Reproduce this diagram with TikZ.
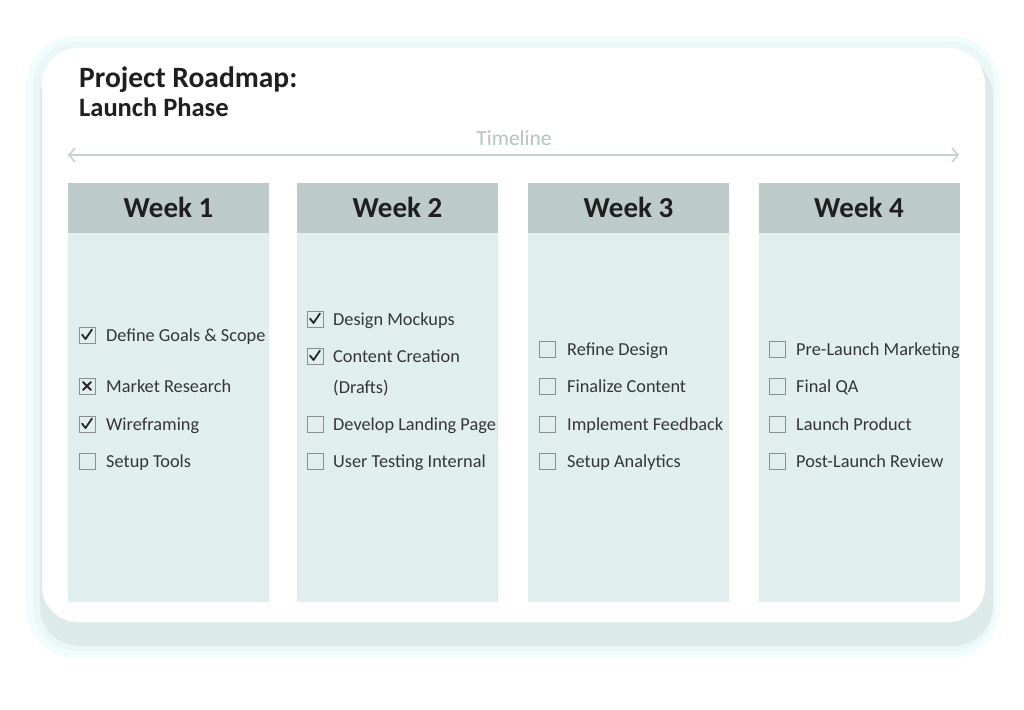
\documentclass[tikz,border=0pt]{standalone}
\usepackage{fontspec}
\setmainfont{Carlito}
\usetikzlibrary{arrows.meta,calc}
\definecolor{hdrfill}{HTML}{BCCAC9}
\definecolor{bodyfill}{HTML}{E1EEEE}
\definecolor{itemtext}{HTML}{353535}
\definecolor{boxline}{HTML}{8A8F8F}
\definecolor{tlcol}{HTML}{C5D2CF}
\definecolor{tltext}{HTML}{B4C4C2}
\definecolor{glowA}{HTML}{F1FDFD}
\definecolor{glowB}{HTML}{DDEAEA}
\tikzset{
  hdr/.style={fill=hdrfill, draw=none, minimum width=201pt, minimum height=50pt, inner sep=0pt,
    font=\bfseries\fontsize{29}{32}\selectfont, text=black!88},
  colbody/.style={fill=bodyfill, draw=none, minimum width=201pt, minimum height=369pt, inner sep=0pt},
  cbox/.style={draw=boxline, line width=1pt, minimum size=16pt, inner sep=0pt},
  itemtxt/.style={anchor=base west, inner sep=0pt, text=itemtext, font=\fontsize{18.3}{21}\selectfont},
  tick/.style={line width=1.8pt, draw=black!85, line cap=round, line join=round},
}
\newcommand{\chk}[1]{\draw[tick] ([shift={(-5pt,0.5pt)}]#1.center) -- ([shift={(-1.5pt,-4pt)}]#1.center) -- ([shift={(5pt,5.5pt)}]#1.center);}
\newcommand{\crs}[1]{\draw[tick] ([shift={(-4pt,-4pt)}]#1.center) -- ([shift={(4pt,4pt)}]#1.center) ([shift={(-4pt,4pt)}]#1.center) -- ([shift={(4pt,-4pt)}]#1.center);}
\newcommand{\roadtask}[5]{%
  \node[cbox] (#1b) at (#2,#4) {};
  \node[itemtxt] (#1t) at (#3,#4+6) {#5};
}
\begin{document}
\begin{tikzpicture}[x=1pt,y=-1pt]
\useasboundingbox (0,0) rectangle (1024,709);
\fill[white] (0,0) rectangle (1024,709);
% card glow / shadow
\fill[glowA] (26,36) [rounded corners=50pt] rectangle (1000,658);
\fill[glowB!30!glowA] (33,42) [rounded corners=44pt] rectangle (995,651);
\fill[glowB] (40,56) [rounded corners=40pt] rectangle (993,646);
\fill[white, rounded corners=36pt] (42,48) rectangle (985,622);
% title
\node[anchor=base west, inner sep=0pt, font=\bfseries\fontsize{29.5}{32}\selectfont, text=black!88] (title) at (79,87) {Project Roadmap:};
\node[anchor=base west, inner sep=0pt, font=\bfseries\fontsize{26.5}{29}\selectfont, text=black!88] (subtitle) at (79,116) {Launch Phase};
% timeline
\coordinate (tlL) at (68,155);
\coordinate (tlR) at (959,155);
\draw[tlcol, line width=1.6pt, {Straight Barb[length=6pt,width=14pt]}-{Straight Barb[length=6pt,width=14pt]}] (tlL) -- (tlR);
\node[text=tltext, font=\fontsize{21.5}{24}\selectfont, inner sep=0pt, anchor=base] (tllabel) at (514,145) {Timeline};
% columns
\foreach \n/\x in {1/168.5, 2/397.5, 3/628.5, 4/859} {
  \node[colbody, anchor=north] (body\n) at (\x,233) {};
  \node[hdr, anchor=south] (head\n) at (\x,233) {\raisebox{-1pt}{Week \n}};
}
% week 1
\roadtask{a1}{87}{106}{335}{Define Goals \& Scope}
\roadtask{a2}{87}{106}{386}{Market Research}
\roadtask{a3}{87}{106}{424}{Wireframing}
\roadtask{a4}{87}{106}{461}{Setup Tools}
\chk{a1b}\crs{a2b}\chk{a3b}
% week 2
\roadtask{b1}{315}{333}{319}{Design Mockups}
\roadtask{b2}{315}{333}{356}{Content Creation}
\node[itemtxt] (b2t2) at (333,393) {(Drafts)};
\roadtask{b3}{315}{333}{424}{Develop Landing Page}
\roadtask{b4}{315}{333}{461}{User Testing Internal}
\chk{b1b}\chk{b2b}
% week 3
\roadtask{c1}{547}{567}{349}{Refine Design}
\roadtask{c2}{547}{567}{386}{Finalize Content}
\roadtask{c3}{547}{567}{424}{Implement Feedback}
\roadtask{c4}{547}{567}{461}{Setup Analytics}
% week 4
\roadtask{d1}{777}{796}{349}{Pre-Launch Marketing}
\roadtask{d2}{777}{796}{386}{Final QA}
\roadtask{d3}{777}{796}{424}{Launch Product}
\roadtask{d4}{777}{796}{461}{Post-Launch Review}
\end{tikzpicture}
\end{document}
